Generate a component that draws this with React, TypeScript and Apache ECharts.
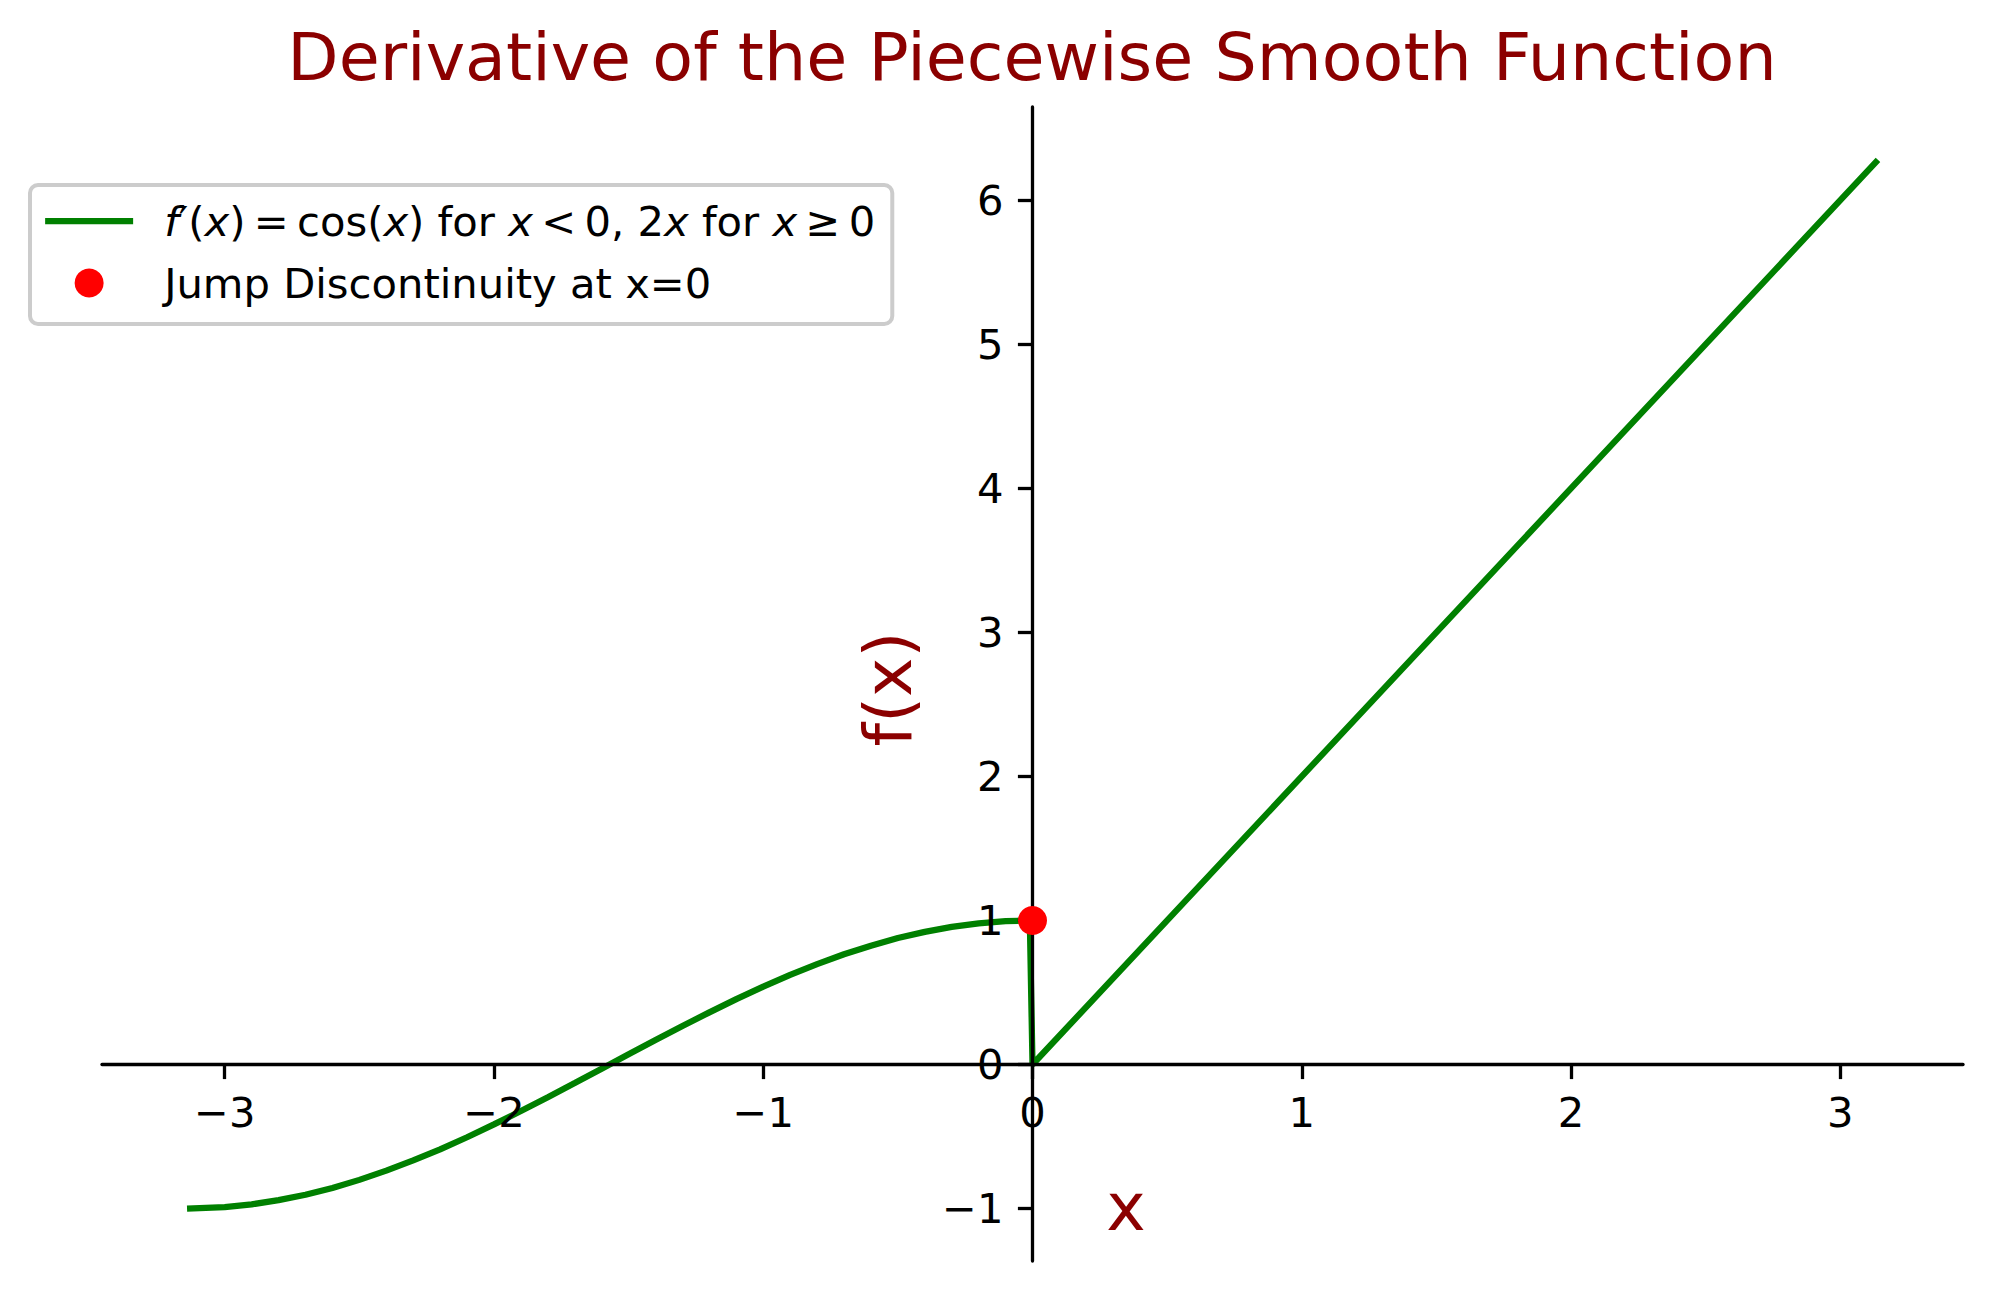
import React, { useEffect, useRef } from "react";
import * as echarts from "echarts";

const titleText = "Derivative of the Piecewise Smooth Function";
const lineName = "f′(x) = cos(x) for x < 0, 2x for x ≥ 0";
const pointName = "Jump Discontinuity at x=0";

// cos(x) branch, x < 0
const negX = [-3.14, -3.0, -2.9, -2.8, -2.7, -2.6, -2.5, -2.4, -2.3, -2.2, -2.1, -2.0, -1.9, -1.8, -1.7, -1.6, -1.5, -1.4, -1.3, -1.2, -1.1, -1.0, -0.9, -0.8, -0.7, -0.6, -0.5, -0.4, -0.3, -0.2, -0.1, -0.01];
const negY = [-1.0, -0.99, -0.971, -0.942, -0.904, -0.857, -0.801, -0.737, -0.666, -0.589, -0.505, -0.416, -0.323, -0.227, -0.129, -0.029, 0.071, 0.17, 0.267, 0.362, 0.454, 0.54, 0.622, 0.697, 0.765, 0.825, 0.878, 0.921, 0.955, 0.98, 0.995, 1.0];
// 2x branch, x >= 0
const posX = [0, 3.14];
const posY = [0, 6.28];
// jump marker
const jumpX = [0];
const jumpY = [1];

const xTicks = [-3, -2, -1, 0, 1, 2, 3];
const yTicks = [-1, 0, 1, 2, 3, 4, 5, 6];

const X_MIN = -3.4558;
const X_MAX = 3.4558;
const Y_MIN = -1.3642;
const Y_MAX = 6.6473;

const W = 1992;
const H = 1292;
const GRID = { left: 102, right: 29, top: 107, bottom: 31 };

const FONT = "DejaVu Sans";
const DARK_RED = "#8b0000";
const THIN = "\u2009";

const fmt = (v: number) => String(v).replace("-", "\u2212");

const App = () => {
  const chartRef = useRef<HTMLDivElement | null>(null);

  useEffect(() => {
    if (!chartRef.current) return;
    const chart = echarts.init(chartRef.current, null, { renderer: "svg" });

    const lineData = [
      ...negX.map((x, i) => [x, negY[i]]),
      ...posX.map((x, i) => [x, posY[i]]),
    ];
    const pointData = jumpX.map((x, i) => [x, jumpY[i]]);

    // put the spines through the origin, like matplotlib's set_position('zero')
    const plotW = W - GRID.left - GRID.right;
    const plotH = H - GRID.top - GRID.bottom;
    const xAxisOffset = -((0 - Y_MIN) / (Y_MAX - Y_MIN)) * plotH;
    const yAxisOffset = -((0 - X_MIN) / (X_MAX - X_MIN)) * plotW;

    const options = {
      animation: false,
      backgroundColor: "#ffffff",
      textStyle: { fontFamily: FONT },
      grid: { ...GRID, containLabel: false, outerBoundsMode: "none" },
      xAxis: {
        type: "value",
        min: X_MIN,
        max: X_MAX,
        position: "bottom",
        offset: xAxisOffset,
        z: 3,
        splitLine: { show: false },
        axisLine: { onZero: false, lineStyle: { color: "#000", width: 3.3 } },
        axisTick: { customValues: xTicks, length: 14.6, lineStyle: { color: "#000", width: 3.3 } },
        axisLabel: {
          customValues: xTicks,
          margin: 27,
          fontSize: 41.7,
          color: "#000",
          fontFamily: FONT,
          formatter: (v: number) => fmt(v),
        },
      },
      yAxis: {
        type: "value",
        min: Y_MIN,
        max: Y_MAX,
        position: "left",
        offset: yAxisOffset,
        z: 3,
        splitLine: { show: false },
        axisLine: { onZero: false, lineStyle: { color: "#000", width: 3.3 } },
        axisTick: { customValues: yTicks, length: 14.6, lineStyle: { color: "#000", width: 3.3 } },
        axisLabel: {
          customValues: yTicks,
          margin: 29,
          fontSize: 41.7,
          color: "#000",
          fontFamily: FONT,
          formatter: (v: number) => fmt(v),
        },
      },
      legend: {
        orient: "vertical",
        left: 30,
        top: 185,
        padding: [15, 17, 20, 12],
        itemWidth: 88,
        itemHeight: 29,
        itemGap: 20,
        borderColor: "#cccccc",
        borderWidth: 4,
        borderRadius: 8,
        backgroundColor: "rgba(255,255,255,0.8)",
        textStyle: {
          fontFamily: FONT,
          fontSize: 41.7,
          color: "#000",
          padding: [0, 0, 0, 26],
          rich: {
            i: { fontFamily: FONT, fontSize: 41.7, fontStyle: "italic", color: "#000" },
          },
        },
        formatter: (name: string) =>
          name === lineName
            ? `{i|f}′({i|x})${THIN}=${THIN}cos({i|x}) for {i|x}${THIN}<${THIN}0, 2{i|x} for {i|x}${THIN}≥${THIN}0`
            : name,
        data: [
          {
            name: lineName,
            lineStyle: { color: "#008000", width: 6.25 },
            itemStyle: { color: "rgba(0,0,0,0)", borderWidth: 0 },
          },
          { name: pointName, icon: "circle" },
        ],
      },
      graphic: [
        {
          type: "text",
          x: 1032,
          y: 57,
          style: {
            text: titleText,
            fontFamily: FONT,
            fontSize: 66.7,
            fill: DARK_RED,
            align: "center",
            verticalAlign: "middle",
          },
        },
        {
          type: "text",
          x: 888,
          y: 689,
          rotation: Math.PI / 2,
          style: {
            text: "f(x)",
            fontFamily: FONT,
            fontSize: 66.7,
            fill: DARK_RED,
            align: "center",
            verticalAlign: "middle",
          },
        },
        {
          type: "text",
          x: 1126,
          y: 1207,
          style: {
            text: "x",
            fontFamily: FONT,
            fontSize: 66.7,
            fill: DARK_RED,
            align: "center",
            verticalAlign: "middle",
          },
        },
      ],
      series: [
        {
          name: lineName,
          type: "line",
          data: lineData,
          symbol: "none",
          z: 2,
          lineStyle: { color: "#008000", width: 6.25 },
          itemStyle: { color: "#008000" },
        },
        {
          name: pointName,
          type: "scatter",
          data: pointData,
          symbolSize: 29,
          z: 5,
          itemStyle: { color: "#ff0000", opacity: 1 },
        },
      ],
    };

    chart.setOption(options);

    return () => {
      chart.dispose();
    };
  }, []);

  return (
    <div
      ref={chartRef}
      style={{ position: "fixed", left: 0, top: 0, width: W, height: H }}
    ></div>
  );
};

export default App;
